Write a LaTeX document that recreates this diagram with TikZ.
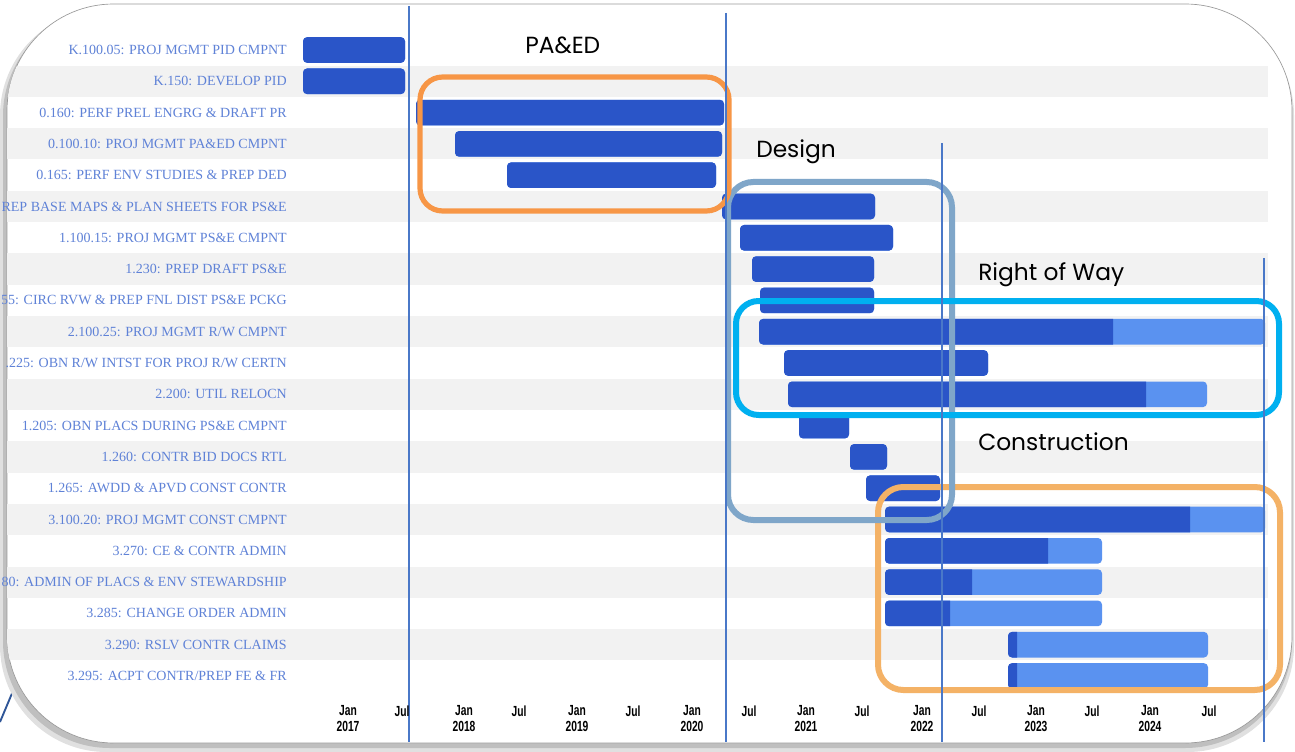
\documentclass[tikz,border=0pt]{standalone}
\usepackage{fontspec}
\setmainfont{Liberation Serif}
\newfontfamily\titlefont{Poppins}
\newfontfamily\axisfont{Liberation Sans}
\definecolor{bardark}{RGB}{42,85,200}
\definecolor{barlight}{RGB}{90,146,240}
\definecolor{labblue}{RGB}{95,130,215}
\definecolor{vblue}{RGB}{74,120,200}
\definecolor{fragblue}{RGB}{47,85,151}
\definecolor{bandgrey}{RGB}{242,242,242}
\definecolor{paorange}{RGB}{247,150,70}
\definecolor{desblue}{RGB}{127,166,201}
\definecolor{rowcyan}{RGB}{0,176,240}
\definecolor{conorange}{RGB}{244,178,102}
\tikzset{
  labeltext/.style={anchor=east, inner sep=0pt, text=labblue, font=\fontsize{10.5}{11}\selectfont},
  axistext/.style={inner sep=0pt, font=\axisfont\bfseries\fontsize{11}{12}\selectfont},
  titletext/.style={anchor=west, inner sep=0pt, font=\titlefont\fontsize{17.5}{20}\selectfont},
  vline/.style={draw=vblue, line width=1.1pt},
  phasebox/.style={rounded corners=17pt, line width=4.5pt},
}
\begin{document}
\begin{tikzpicture}[x=0.75pt,y=-0.75pt]
\useasboundingbox (0,0) rectangle (1295,752);
\fill[white] (0,0) rectangle (1295,752);
% fragments outside the panel
\draw[fragblue, line width=1.4pt] (0,722) -- (13,691);
\draw[fragblue, line width=1.1pt] (0,189) -- (6,192);
\draw[fragblue, line width=1.1pt] (0,429) -- (6,433);
\draw[fragblue, line width=1.1pt] (0,498) -- (6,495);
% panel shadow
\fill[black!12, rounded corners=80pt] (0,9) rectangle (1294,752);
\fill[black!25, rounded corners=80pt] (3,9) rectangle (1292,748);
% panel
\fill[white, rounded corners=80pt] (7,4) rectangle (1292,743);
\draw[black!40, line width=0.5pt, rounded corners=80pt] (7,4) rectangle (1292,743);
% row bands
\begin{scope}
\clip[rounded corners=80pt] (7,4) rectangle (1292,743);
\foreach \i in {2,4,...,20} {
  \pgfmathsetmacro\yc{50+(\i-1)*31.3}
  \fill[bandgrey] (7,\yc-15.6) rectangle (1268,\yc+15.6);
}
\end{scope}
% labels
\begin{scope}
\clip (2,0) rectangle (300,752);
\foreach \i/\t in {
  1/{K.100.05: PROJ MGMT PID CMPNT},
  2/{K.150: DEVELOP PID},
  3/{0.160: PERF PREL ENGRG \& DRAFT PR},
  4/{0.100.10: PROJ MGMT PA\&ED CMPNT},
  5/{0.165: PERF ENV STUDIES \& PREP DED},
  6/{REP BASE MAPS \& PLAN SHEETS FOR PS\&E},
  7/{1.100.15: PROJ MGMT PS\&E CMPNT},
  8/{1.230: PREP DRAFT PS\&E},
  9/{55: CIRC RVW \& PREP FNL DIST PS\&E PCKG},
  10/{2.100.25: PROJ MGMT R/W CMPNT},
  11/{.225: OBN R/W INTST FOR PROJ R/W CERTN},
  12/{2.200: UTIL RELOCN},
  13/{1.205: OBN PLACS DURING PS\&E CMPNT},
  14/{1.260: CONTR BID DOCS RTL},
  15/{1.265: AWDD \& APVD CONST CONTR},
  16/{3.100.20: PROJ MGMT CONST CMPNT},
  17/{3.270: CE \& CONTR ADMIN},
  18/{80: ADMIN OF PLACS \& ENV STEWARDSHIP},
  19/{3.285: CHANGE ORDER ADMIN},
  20/{3.290: RSLV CONTR CLAIMS},
  21/{3.295: ACPT CONTR/PREP FE \& FR}} {
  \pgfmathsetmacro\yc{50+(\i-1)*31.3}
  \node[labeltext] (lab\i) at (287,\yc) {\t};
}
\end{scope}
% bars: row/start/split/end
\foreach \i/\s/\m/\e in {
  1/303/405/405, 2/303/405/405, 3/416/724/724, 4/455/722/722, 5/507/716/716,
  6/722/875/875, 7/740/893/893, 8/752/874/874, 9/760/874/874, 10/759/1113/1265,
  11/784/988/988, 12/788/1146/1207, 13/799/849/849, 14/850/887/887, 15/866/940/940,
  16/885/1190/1265, 17/885/1048/1102, 18/885/972/1102, 19/885/950/1102,
  20/1008/1017/1208, 21/1008/1017/1208} {
  \pgfmathsetmacro\yc{50+(\i-1)*31.3}
  \fill[barlight, rounded corners=3pt] (\s,\yc-12.8) rectangle (\e,\yc+12.8);
  \begin{scope}
    \clip (\s-2,\yc-14) rectangle (\m,\yc+14);
    \fill[bardark, rounded corners=3pt] (\s,\yc-12.8) rectangle (\e,\yc+12.8);
  \end{scope}
}
% phase boxes
\draw[conorange, phasebox, rounded corners=19pt] (878,487) rectangle (1280,690);
\draw[desblue, phasebox, rounded corners=19pt] (728,182) rectangle (952,520);
\draw[rowcyan, phasebox] (736,301) rectangle (1279,415);
\draw[paorange, phasebox, line width=3.9pt] (420,77) rectangle (729,211);
% vertical lines
\draw[vline] (409,6) -- (409,742);
\draw[vline] (726,13) -- (726,742);
\draw[vline] (942,143) -- (942,742);
\draw[vline] (1264,258) -- (1264,742);
% titles
\node[titletext] (tpaed) at (525,45) {PA\&ED};
\node[titletext] (tdes) at (756,152) {Design};
\node[titletext] (trow) at (978,275) {Right of Way};
\node[titletext] (tcon) at (978,442) {Construction};
% axis
\foreach \x/\yr in {348/2017, 464/2018, 577/2019, 692/2020, 806/2021, 922/2022, 1036/2023, 1150/2024} {
  \node[axistext] (jan\yr) at (\x,711) {\scalebox{0.7}[1]{Jan}};
  \node[axistext] (yr\yr) at (\x,726) {\scalebox{0.7}[1]{\yr}};
}
\foreach \x/\k in {402/a, 519/b, 633/c, 749/d, 862/e, 979/f, 1092/g, 1209/h} {
  \node[axistext] (jul\k) at (\x,711) {\scalebox{0.7}[1]{Jul}};
}
\end{tikzpicture}
\end{document}
